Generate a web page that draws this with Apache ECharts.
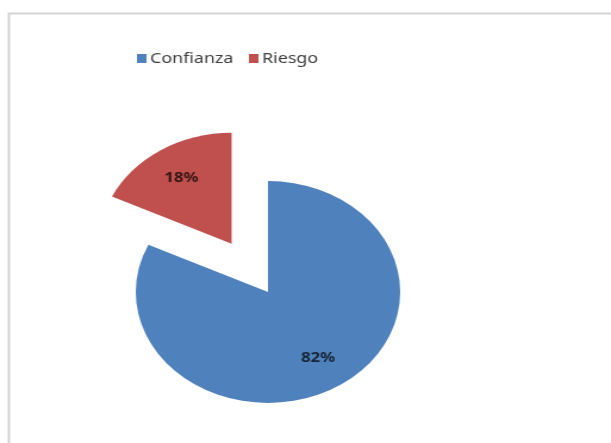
<!DOCTYPE html>
<html>
<head>
<meta charset="utf-8">
<script src="https://cdn.jsdelivr.net/npm/echarts@6/dist/echarts.min.js"></script>
<style>
  html, body { margin: 0; padding: 0; background: #ffffff; overflow: hidden; }
  #wrap { width: 611px; height: 443px; overflow: hidden; position: relative; }
  #chart { width: 513px; height: 443px; transform: scaleX(1.191); transform-origin: 0 0; }
</style>
</head>
<body>
<div id="wrap"><div id="chart"></div></div>
<script>
// Data
var categories = ['Confianza', 'Riesgo'];
var values = [82, 18];
var colors = ['#4F81BD', '#C0504D'];
var explodedIndex = 1;

var chart = echarts.init(document.getElementById('chart'), null, { renderer: 'canvas' });

function buildData(transparent) {
  return categories.map(function (name, i) {
    return {
      name: name,
      value: values[i],
      selected: i === explodedIndex,
      itemStyle: transparent ? { color: 'rgba(0,0,0,0)' } : { color: colors[i] }
    };
  });
}

var center = [225, 292];
var option = {
  animation: false,
  backgroundColor: '#ffffff',
  graphic: [{
    type: 'rect',
    shape: { x: 7.5, y: 13.5, width: 620, height: 520 },
    style: { fill: 'none', stroke: '#d4d4d4', lineWidth: 2 },
    silent: true
  }],
  legend: {
    data: categories,
    left: 110,
    top: 46,
    itemWidth: 8,
    itemHeight: 9,
    itemGap: 13,
    icon: 'rect',
    selectedMode: false,
    textStyle: { fontFamily: 'Noto Sans', fontSize: 15, color: '#3f3f3f', padding: [0, 0, 0, -2] }
  },
  series: [
    {
      type: 'pie',
      name: 'main',
      center: center,
      radius: [0, 111],
      startAngle: 90,
      clockwise: true,
      selectedMode: 'single',
      selectedOffset: 57,
      label: { show: false },
      labelLine: { show: false },
      emphasis: { disabled: true },
      silent: true,
      data: buildData(false)
    },
    {
      type: 'pie',
      name: 'labels',
      center: center,
      radius: [40, 111],
      startAngle: 90,
      clockwise: true,
      selectedMode: 'single',
      selectedOffset: 57,
      label: {
        show: true,
        position: 'inside',
        formatter: '{d}%',
        fontFamily: 'Noto Sans',
        fontSize: 14,
        fontWeight: 'bold',
        color: 'rgba(0,0,0,0.72)'
      },
      labelLine: { show: false },
      emphasis: { disabled: true },
      silent: true,
      data: buildData(true)
    }
  ]
};
chart.setOption(option);
</script>
</body>
</html>
